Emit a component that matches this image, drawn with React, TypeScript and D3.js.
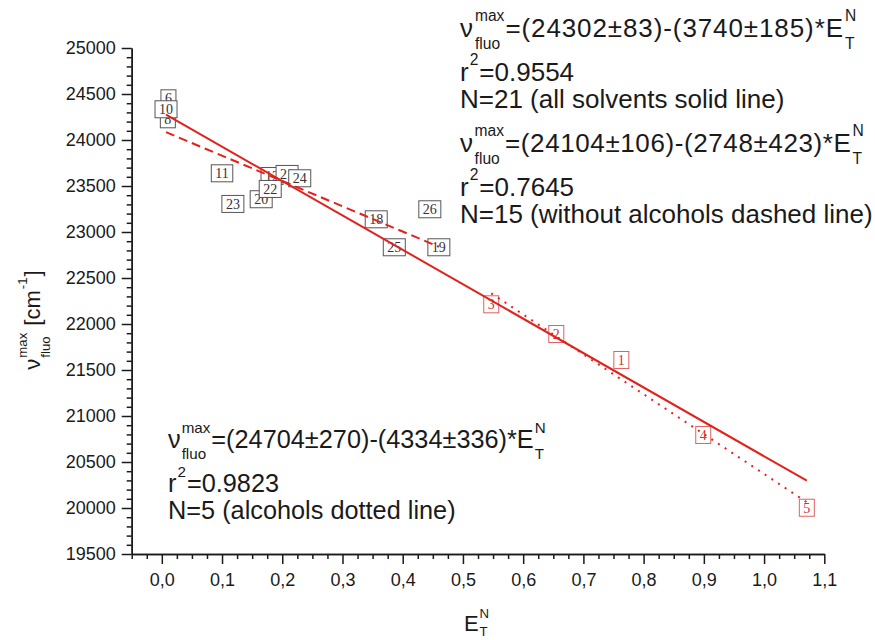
import React, { useEffect, useRef } from "react";
import * as d3 from "d3";

// non-alcoholic solvents (black boxes)
const solventLabels = ["6", "8", "10", "11", "23", "20", "12", "21", "22", "24", "18", "26", "25", "19"];
const solventET = [0.011, 0.010, 0.007, 0.100, 0.118, 0.165, 0.183, 0.208, 0.180, 0.229, 0.356, 0.445, 0.386, 0.460];
const solventNu = [24453, 24225, 24334, 23638, 23305, 23356, 23609, 23631, 23468, 23584, 23138, 23247, 22834, 22834];

// alcohols (red boxes)
const alcoholLabels = ["1", "2", "3", "4", "5"];
const alcoholET = [0.763, 0.655, 0.547, 0.899, 1.071];
const alcoholNu = [21609, 21891, 22214, 20794, 20003];

const xTicks = [0, 0.1, 0.2, 0.3, 0.4, 0.5, 0.6, 0.7, 0.8, 0.9, 1.0, 1.1];
const yTicks = [19500, 20000, 20500, 21000, 21500, 22000, 22500, 23000, 23500, 24000, 24500, 25000];

// linear fits: all solvents, without alcohols, alcohols
const fitIntercept = [24302, 24104, 24704];
const fitInterceptErr = [83, 106, 270];
const fitSlope = [3740, 2748, 4334];
const fitSlopeErr = [185, 423, 336];
const fitR2 = ["0.9554", "0.7645", "0.9823"];
const fitN = [21, 15, 5];
const fitNote = ["all solvents solid line", "without alcohols dashed line", "alcohols dotted line"];

type Part = { t?: string; sup?: string; sub?: string };

const App = () => {
  const svgRef = useRef<SVGSVGElement>(null);

  useEffect(() => {
    const svg = d3.select(svgRef.current);
    svg.selectAll("*").remove();

    const sans = "'Liberation Sans', Arial, Helvetica, sans-serif";
    const serif = "'Liberation Serif', 'Times New Roman', serif";
    const ink = "#1a1a1a";
    const red = "#e3201c";

    const x = d3.scaleLinear().domain([-0.05, 1.1]).range([131.7, 824.3]);
    const y = d3.scaleLinear().domain([19500, 25000]).range([554, 48]);

    // minor ticks
    const xMinor = d3.range(-0.05, 1.1001, 0.025).filter((v) => !xTicks.some((t) => Math.abs(t - v) < 1e-6));
    const yMinor = d3.range(19500, 25001, 100).filter((v) => v % 500 !== 0);

    const styleAxis = (g) => {
      g.selectAll("path, line").attr("stroke", ink).attr("stroke-width", 1.5);
      g.selectAll("text").attr("font-family", sans).attr("font-size", 18).attr("fill", ink);
    };

    svg.append("g")
      .attr("transform", `translate(0,${y(19500)})`)
      .call(d3.axisBottom(x).tickValues(xMinor).tickSize(5).tickSizeOuter(0).tickFormat(() => ""))
      .call(styleAxis);
    svg.append("g")
      .attr("transform", `translate(0,${y(19500)})`)
      .call(
        d3.axisBottom(x).tickValues(xTicks).tickSize(10).tickSizeOuter(0).tickPadding(9)
          .tickFormat((d) => d3.format(".1f")(d as number).replace(".", ","))
      )
      .call(styleAxis);

    svg.append("g")
      .attr("transform", `translate(${x(-0.05)},0)`)
      .call(d3.axisLeft(y).tickValues(yMinor).tickSize(5).tickSizeOuter(0).tickFormat(() => ""))
      .call(styleAxis);
    svg.append("g")
      .attr("transform", `translate(${x(-0.05)},0)`)
      .call(d3.axisLeft(y).tickValues(yTicks).tickSize(10).tickSizeOuter(0).tickPadding(6).tickFormat(d3.format("d")))
      .call(styleAxis);

    // labelled boxes
    const drawBoxes = (labels, xs, ys, stroke, color) => {
      labels.forEach((lab, i) => {
        const g = svg.append("g").attr("transform", `translate(${x(xs[i])},${y(ys[i])})`);
        const r = g.append("rect");
        const t = g.append("text")
          .attr("text-anchor", "middle")
          .attr("y", 5)
          .attr("font-family", serif)
          .attr("font-size", 14)
          .attr("fill", color)
          .text(lab);
        const w = (t.node() as SVGTextElement).getComputedTextLength() + 8;
        r.attr("x", -w / 2).attr("y", -8.5).attr("width", w).attr("height", 17)
          .attr("fill", "white").attr("stroke", stroke).attr("stroke-width", 1);
      });
    };
    drawBoxes(solventLabels, solventET, solventNu, "#555", "#333");
    drawBoxes(alcoholLabels, alcoholET, alcoholNu, "#e06060", "#d03030");

    // fit lines
    const allET = solventET.concat(alcoholET);
    const fitLine = (k, ext, dash) => {
      svg.append("path")
        .datum(ext)
        .attr("d", d3.line<number>().x((v) => x(v)).y((v) => y(fitIntercept[k] - fitSlope[k] * v)))
        .attr("fill", "none")
        .attr("stroke", red)
        .attr("stroke-width", 2)
        .attr("stroke-dasharray", dash);
    };
    fitLine(0, d3.extent(allET), null);
    fitLine(1, d3.extent(solventET), "9,5");
    fitLine(2, d3.extent(alcoholET), "2,6");

    // rich text with stacked super/subscripts
    const rich = (g, parts: Part[], size, spacing = 0, subDrop = 0.45) => {
      let cx = 0;
      const small = size * 0.6;
      parts.forEach((p) => {
        if (p.t) {
          const el = g.append("text").attr("x", cx).attr("y", 0).attr("font-size", size)
            .attr("letter-spacing", spacing)
            .style("white-space", "pre").text(p.t);
          cx += (el.node() as SVGTextElement).getComputedTextLength();
        }
        let w = 0;
        if (p.sup) {
          const el = g.append("text").attr("x", cx + 1).attr("y", -size * 0.6).attr("font-size", small).text(p.sup);
          w = Math.max(w, (el.node() as SVGTextElement).getComputedTextLength() + 2);
        }
        if (p.sub) {
          const el = g.append("text").attr("x", cx + 1).attr("y", size * subDrop).attr("font-size", small).text(p.sub);
          w = Math.max(w, (el.node() as SVGTextElement).getComputedTextLength() + 2);
        }
        cx += w;
      });
      return cx;
    };

    const notePos = [[460, 37], [460, 152], [168, 448]];
    const noteSize = [26, 26, 25.3];
    const noteSpacing = [0.9, 0.6, 0];
    fitIntercept.forEach((b, k) => {
      const g = svg.append("g").attr("font-family", sans).attr("fill", ink);
      const [nx, ny] = notePos[k];
      const fs = noteSize[k];
      rich(g.append("g").attr("transform", `translate(${nx},${ny})`), [
        { t: "ν", sup: "max", sub: "fluo" },
        { t: `=(${b}±${fitInterceptErr[k]})-(${fitSlope[k]}±${fitSlopeErr[k]})*E`, sup: "N", sub: "T" },
      ], fs, noteSpacing[k]);
      rich(g.append("g").attr("transform", `translate(${nx},${ny + 44})`), [
        { t: "r", sup: "2" },
        { t: `=${fitR2[k]}` },
      ], fs);
      rich(g.append("g").attr("transform", `translate(${nx},${ny + 71})`), [
        { t: `N=${fitN[k]} (${fitNote[k]})` },
      ], fs);
    });

    // axis titles
    const xt = svg.append("g").attr("font-family", sans).attr("fill", ink);
    const xw = rich(xt, [{ t: "E", sup: "N", sub: "T" }], 22, 0, 0.22);
    xt.attr("transform", `translate(${477 - xw / 2},631)`);

    const yt = svg.append("g").attr("font-family", sans).attr("fill", ink);
    const yw = rich(yt, [{ t: "ν", sup: "max", sub: "fluo" }, { t: " [cm", sup: "-1" }, { t: "]" }], 22);
    yt.attr("transform", `translate(40,${320 + yw / 2}) rotate(-90)`);
  }, []);

  return (
    <div>
      <svg ref={svgRef} width={875} height={640} style={{ position: "absolute", left: 0, top: 0, background: "#fff" }} />
    </div>
  );
};

export default App;
